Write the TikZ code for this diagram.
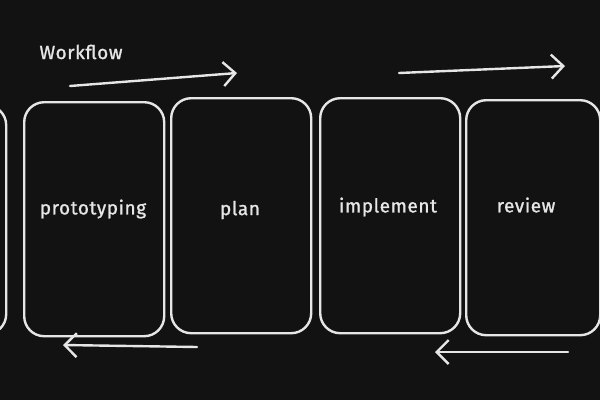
\documentclass[tikz,border=0pt]{standalone}
\usepackage{fontspec}
\setmainfont{Fira Sans}[LetterSpace=3, FakeBold=1.2]
\usetikzlibrary{arrows.meta}
\definecolor{bg}{HTML}{121212}
\definecolor{ink}{HTML}{E6E6E6}
\tikzset{
  card/.style={draw=ink, line width=2.4pt, rounded corners=20pt, inner sep=0pt, anchor=north west},
  lbl/.style={text=ink, font=\fontsize{19}{22}\selectfont, inner sep=0pt},
  flow/.style={draw=ink, line width=2.4pt, line cap=round, -{Straight Barb[length=12pt,width=24pt,line width=2.4pt]}},
}
\begin{document}
\begin{tikzpicture}[x=1pt,y=-1pt]
\fill[bg] (0,0) rectangle (600,400);
\useasboundingbox (0,0) rectangle (600,400);
\clip (0,0) rectangle (600,400);
% cards
\node[card, minimum width=145pt, minimum height=229pt] (b0) at (-140,104) {};
\node[card, minimum width=140pt, minimum height=234pt] (b1) at (23,101) {};
\node[card, minimum width=140pt, minimum height=235pt] (b2) at (170,97) {};
\node[card, minimum width=140pt, minimum height=235pt] (b3) at (319,97) {};
\node[card, minimum width=134pt, minimum height=235pt] (b4) at (465,99) {};
% labels
\node[lbl] (t0) at (81,52) {Workflow};
\node[lbl] (t1) at (93,209) {prototyping};
\node[lbl] (t2) at (240,210) {plan};
\node[lbl] (t3) at (388,207) {implement};
\node[lbl] (t4) at (526,205) {review};
% arrows
\coordinate (a1s) at (70,86);   \coordinate (a1e) at (237,73);
\coordinate (a2s) at (399,73);  \coordinate (a2e) at (565,66);
\coordinate (a3s) at (197,347); \coordinate (a3e) at (63,345);
\coordinate (a4s) at (568,352); \coordinate (a4e) at (435,352);
\draw[flow] (a1s) -- (a1e);
\draw[flow] (a2s) -- (a2e);
\draw[flow] (a3s) -- (a3e);
\draw[flow] (a4s) -- (a4e);
\end{tikzpicture}
\end{document}
